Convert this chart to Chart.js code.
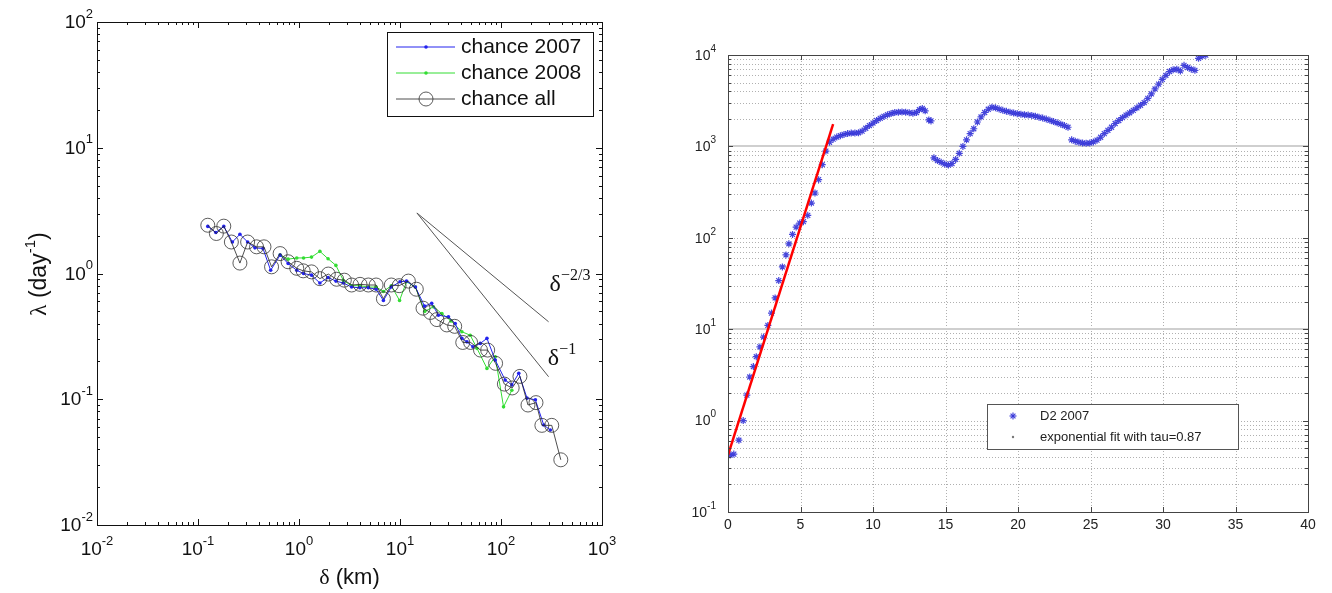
<!DOCTYPE html>
<html>
<head>
<meta charset="utf-8">
<script src="https://cdn.jsdelivr.net/npm/chart.js@4.4.0/dist/chart.umd.min.js"></script>
<style>
html, body { margin: 0; padding: 0; background: #fff; }
#wrap { position: relative; width: 1332px; height: 593px; overflow: hidden; }
#left-chart { position: absolute; left: 0; top: 0; width: 640px; height: 593px; }
#right-chart { position: absolute; left: 660px; top: 0; width: 672px; height: 593px; }
</style>
</head>
<body>
<div id="wrap">
  <canvas id="left-chart" width="640" height="593"></canvas>
  <canvas id="right-chart" width="672" height="593"></canvas>
</div>
<script>
// --- LEFT PANEL DATA (delta in km, lambda in 1/day) ---
const allDelta = [0.125, 0.152, 0.18, 0.214, 0.26, 0.31, 0.38, 0.45, 0.535, 0.65, 0.78, 0.95, 1.10, 1.33, 1.61, 1.95, 2.36, 2.81, 3.32, 4.02, 4.86, 5.8, 6.85, 8.2, 9.8, 12.1, 14.5, 16.9, 20, 23.2, 29.1, 34.8, 41.8, 50, 62.7, 73.8, 88.4, 108, 129, 154, 185, 222, 254, 318, 391];
const allLambda = [2.42, 2.08, 2.38, 1.78, 1.21, 1.78, 1.63, 1.63, 1.13, 1.44, 1.24, 1.10, 1.05, 1.03, 0.91, 0.99, 0.90, 0.885, 0.81, 0.82, 0.81, 0.81, 0.63, 0.81, 0.80, 0.87, 0.75, 0.53, 0.49, 0.43, 0.39, 0.38, 0.283, 0.283, 0.246, 0.246, 0.193, 0.132, 0.123, 0.152, 0.090, 0.094, 0.062, 0.062, 0.033];
const d2007Delta = [0.125, 0.150, 0.18, 0.219, 0.26, 0.31, 0.366, 0.44, 0.524, 0.65, 0.78, 0.95, 1.11, 1.33, 1.61, 1.94, 2.32, 2.75, 3.32, 4.0, 4.86, 5.8, 6.85, 8.2, 10.0, 11.6, 14.2, 17.5, 20.6, 24, 30.2, 35.2, 41, 46, 52.7, 62.4, 72.6, 87.7, 110, 128, 150, 181, 219, 265, 308];
const d2007Lambda = [2.37, 2.12, 2.37, 1.78, 2.05, 1.78, 1.60, 1.58, 1.06, 1.40, 1.20, 1.06, 1.00, 0.97, 0.84, 0.93, 0.87, 0.84, 0.78, 0.77, 0.77, 0.75, 0.61, 0.78, 0.86, 0.87, 0.78, 0.55, 0.58, 0.466, 0.452, 0.40, 0.305, 0.286, 0.261, 0.278, 0.305, 0.205, 0.142, 0.13, 0.161, 0.102, 0.099, 0.0624, 0.0569];
const d2008Delta = [0.65, 0.78, 0.95, 1.11, 1.33, 1.61, 1.94, 2.32, 2.75, 3.32, 4.0, 4.86, 5.8, 6.85, 8.2, 9.9, 11.6, 14.2, 17.6, 21.4, 26, 32, 41, 49.6, 57.8, 72.6, 87.7, 106, 128];
const d2008Lambda = [1.40, 1.30, 1.33, 1.33, 1.35, 1.50, 1.31, 1.16, 0.88, 0.80, 0.80, 0.78, 0.78, 0.72, 0.80, 0.61, 0.86, 0.78, 0.50, 0.543, 0.48, 0.42, 0.344, 0.323, 0.254, 0.176, 0.218, 0.087, 0.118];
const slopeDelta = [14.7, 296];
const slopeTwoThirds = [3.03, 0.413];
const slopeOne = [3.03, 0.151];
const leftXExps = [-2, -1, 0, 1, 2, 3];
const leftYExps = [-2, -1, 0, 1, 2];

// --- RIGHT PANEL DATA (days vs D2) ---
const d2Days = [0.15, 0.4, 0.75, 1.05, 1.3, 1.5, 1.75, 1.95, 2.2, 2.45, 2.75, 3.0, 3.25, 3.5, 3.75, 4.0, 4.2, 4.45, 4.7, 4.95, 5.2, 5.5, 5.75, 6.0, 6.25, 6.5, 6.75, 7.0,
  7.25, 7.5, 7.75, 8.0, 8.25, 8.5, 8.75, 9.0, 9.25, 9.5, 9.75, 10.0, 10.25, 10.5, 10.75, 11.0, 11.25, 11.5, 11.75, 12.0, 12.25, 12.5, 12.75, 13.0, 13.2, 13.4, 13.6, 13.85, 14.0,
  14.2, 14.45, 14.7, 14.95, 15.2, 15.45, 15.7, 15.95, 16.2, 16.45, 16.7, 16.95, 17.2, 17.45, 17.7, 17.95, 18.2, 18.45, 18.7, 18.95, 19.2, 19.45, 19.7, 19.95, 20.2, 20.45, 20.7, 20.95, 21.2, 21.45, 21.7, 21.95, 22.2, 22.45, 22.7, 22.95, 23.2, 23.45,
  23.7, 23.95, 24.2, 24.45, 24.7, 24.95, 25.2, 25.45, 25.7, 25.95, 26.2, 26.45, 26.7, 26.95, 27.2, 27.45, 27.7, 27.95, 28.2, 28.45, 28.7, 28.95, 29.2, 29.45, 29.7, 29.95, 30.2, 30.45, 30.7, 30.95, 31.2, 31.45, 31.7, 31.95, 32.2, 32.45, 32.7, 32.95];
const d2Values = [0.42, 0.43, 0.61, 1.0, 1.9, 3.0, 3.9, 5.0, 6.4, 8.2, 11, 15, 22, 34, 48, 65, 86, 109, 131, 145, 150, 176, 240, 309, 433, 631, 889, 1110,
  1200, 1264, 1310, 1353, 1380, 1400, 1400, 1410, 1470, 1580, 1690, 1800, 1920, 2030, 2130, 2220, 2290, 2350, 2370, 2380, 2370, 2340, 2300, 2350, 2520, 2600, 2450, 1950, 1900,
  750, 700, 670, 640, 625, 650, 720, 840, 1000, 1180, 1380, 1560, 1850, 2100, 2350, 2550, 2680, 2640, 2560, 2480, 2420, 2370, 2320, 2280, 2250, 2220, 2200, 2180, 2140, 2090, 2040, 1990, 1930, 1870, 1810, 1750, 1690, 1620,
  1180, 1140, 1110, 1090, 1080, 1090, 1120, 1170, 1260, 1380, 1500, 1620, 1780, 1920, 2060, 2200, 2330, 2480, 2640, 2820, 3020, 3350, 3750, 4250, 4800, 5400, 6000, 6600, 6900, 7000, 6700, 7700, 7300, 7000, 6800, 9200, 9700, 9950];
const fitDays = [0, 7.25];
const fitValues = [0.42, 1750];
const rightXTicks = [0, 5, 10, 15, 20, 25, 30, 35, 40];
const rightYExps = [-1, 0, 1, 2, 3, 4];

const SANS = '"Liberation Sans", Arial, sans-serif';
const SERIF = '"Liberation Serif", "Times New Roman", serif';
const RIGHT_OFFSET = 660; // right canvas starts here on the page

function toPoints(xs, ys) {
  return xs.map((x, i) => ({ x: x, y: ys[i] }));
}

function line(ctx, x1, y1, x2, y2) {
  ctx.beginPath(); ctx.moveTo(x1, y1); ctx.lineTo(x2, y2); ctx.stroke();
}

// '10' with a superscript exponent, centred or right aligned on x
function drawPow(ctx, exp, x, y, base, sup, dy, align) {
  ctx.font = base + 'px ' + SANS;
  const w1 = ctx.measureText('10').width;
  ctx.font = sup + 'px ' + SANS;
  const w2 = ctx.measureText(String(exp)).width;
  const x0 = align === 'right' ? x - w1 - w2 : x - (w1 + w2) / 2;
  ctx.textAlign = 'left';
  ctx.textBaseline = 'middle';
  ctx.font = base + 'px ' + SANS;
  ctx.fillText('10', x0, y);
  ctx.font = sup + 'px ' + SANS;
  ctx.fillText(String(exp), x0 + w1, y - dy);
}

// text pieces [text, font, dy] drawn one after the other, centred on x
function drawPieces(ctx, pieces, x, y) {
  let total = 0;
  pieces.forEach(p => { ctx.font = p[1]; total += ctx.measureText(p[0]).width; });
  let cx = x - total / 2;
  ctx.textAlign = 'left';
  ctx.textBaseline = 'middle';
  pieces.forEach(p => {
    ctx.font = p[1];
    ctx.fillText(p[0], cx, y + (p[2] || 0));
    cx += ctx.measureText(p[0]).width;
  });
}

function logTicks(exps) {
  const out = [];
  for (let i = 0; i < exps.length; i++) {
    const e = exps[i];
    out.push({ v: Math.pow(10, e), major: true });
    if (i < exps.length - 1) {
      for (let m = 2; m <= 9; m++) out.push({ v: m * Math.pow(10, e), major: false });
    }
  }
  return out;
}

// --- LEFT PANEL DECORATION ---
const leftDecor = {
  id: 'leftDecor',
  afterDraw(chart) {
    const { ctx, chartArea: a, scales: { x, y } } = chart;
    ctx.save();
    ctx.strokeStyle = '#111';
    ctx.lineWidth = 1;
    ctx.strokeRect(Math.round(a.left) + 0.5, Math.round(a.top) + 0.5, Math.round(a.right - a.left), Math.round(a.bottom - a.top));

    logTicks(leftXExps).forEach(t => {
      const px = Math.round(x.getPixelForValue(t.v)) + 0.5;
      const len = t.major ? 6 : 3;
      line(ctx, px, a.bottom, px, a.bottom - len);
      line(ctx, px, a.top, px, a.top + len);
    });
    logTicks(leftYExps).forEach(t => {
      const py = Math.round(y.getPixelForValue(t.v)) + 0.5;
      const len = t.major ? 6 : 3;
      line(ctx, a.left, py, a.left + len, py);
      line(ctx, a.right, py, a.right - len, py);
    });

    ctx.fillStyle = '#111';
    leftXExps.forEach(e => drawPow(ctx, e, x.getPixelForValue(Math.pow(10, e)), 550, 19, 13, 9, 'center'));
    leftYExps.forEach(e => drawPow(ctx, e, a.left - 4, y.getPixelForValue(Math.pow(10, e)) + 1, 19, 13, 9, 'right'));

    drawPieces(ctx, [['δ', '22px ' + SERIF], [' (km)', '22px ' + SANS]], (a.left + a.right) / 2, 578);

    ctx.save();
    ctx.translate(40, 274);
    ctx.rotate(-Math.PI / 2);
    drawPieces(ctx, [['λ', '23px ' + SERIF], [' (day', '23px ' + SANS], ['-1', '15px ' + SANS, -9], [')', '23px ' + SANS]], 0, 0);
    ctx.restore();

    // power law labels
    drawPieces(ctx, [['δ', '24px ' + SERIF], ['−2/3', '16px ' + SERIF, -9]], 570, 285);
    drawPieces(ctx, [['δ', '24px ' + SERIF], ['−1', '16px ' + SERIF, -9]], 562, 359);

    // legend
    const lx = 387, ly = 32, lw = 206, lh = 84;
    ctx.fillStyle = '#fff';
    ctx.fillRect(lx, ly, lw, lh);
    ctx.strokeStyle = '#111';
    ctx.lineWidth = 1;
    ctx.strokeRect(lx + 0.5, ly + 0.5, lw, lh);
    const rows = [
      { label: 'chance 2007', ds: chart.data.datasets[1], y: 47 },
      { label: 'chance 2008', ds: chart.data.datasets[2], y: 73 },
      { label: 'chance all', ds: chart.data.datasets[0], y: 99 }
    ];
    rows.forEach(r => {
      ctx.strokeStyle = r.ds.borderColor;
      ctx.lineWidth = r.ds.borderWidth;
      line(ctx, 396, r.y, 455, r.y);
      ctx.beginPath();
      ctx.arc(426, r.y, r.ds.pointRadius, 0, Math.PI * 2);
      if (r.ds.pointBackgroundColor !== 'transparent') {
        ctx.fillStyle = r.ds.pointBackgroundColor;
        ctx.fill();
      } else {
        ctx.strokeStyle = r.ds.pointBorderColor;
        ctx.stroke();
      }
      ctx.fillStyle = '#111';
      ctx.font = '21px ' + SANS;
      ctx.textAlign = 'left';
      ctx.textBaseline = 'middle';
      ctx.fillText(r.label, 461, r.y);
    });
    ctx.restore();
  }
};

// --- RIGHT PANEL DECORATION (page x minus RIGHT_OFFSET) ---
const rightDecor = {
  id: 'rightDecor',
  beforeDatasetsDraw(chart) {
    const { ctx, chartArea: a, scales: { x, y } } = chart;
    ctx.save();
    ctx.lineWidth = 1;
    ctx.strokeStyle = '#b0b0b0';
    ctx.setLineDash([1, 2]);
    rightXTicks.slice(1, -1).forEach(t => {
      const px = Math.round(x.getPixelForValue(t)) + 0.5;
      line(ctx, px, a.top, px, a.bottom);
    });
    logTicks(rightYExps).forEach(t => {
      const py = Math.round(y.getPixelForValue(t.v)) + 0.5;
      line(ctx, a.left, py, a.right, py);
    });
    ctx.setLineDash([]);
    ctx.strokeStyle = '#cfcfcf';
    ctx.lineWidth = 2;
    [10, 1000].forEach(v => {
      const py = Math.round(y.getPixelForValue(v));
      line(ctx, a.left, py, a.right, py);
    });
    ctx.restore();
  },
  afterDraw(chart) {
    const { ctx, chartArea: a, scales: { x, y } } = chart;
    ctx.save();
    ctx.strokeStyle = '#444';
    ctx.lineWidth = 1;
    ctx.strokeRect(Math.round(a.left) + 0.5, Math.round(a.top) + 0.5, Math.round(a.right - a.left), Math.round(a.bottom - a.top));
    rightXTicks.forEach(t => {
      const px = Math.round(x.getPixelForValue(t)) + 0.5;
      line(ctx, px, a.bottom, px, a.bottom - 5);
      line(ctx, px, a.top, px, a.top + 5);
    });
    logTicks(rightYExps).forEach(t => {
      const py = Math.round(y.getPixelForValue(t.v)) + 0.5;
      const len = t.major ? 5 : 3;
      line(ctx, a.left, py, a.left + len, py);
      line(ctx, a.right, py, a.right - len, py);
    });

    ctx.fillStyle = '#222';
    ctx.font = '14px ' + SANS;
    ctx.textAlign = 'center';
    ctx.textBaseline = 'middle';
    rightXTicks.forEach(t => ctx.fillText(String(t), x.getPixelForValue(t), 525));
    rightYExps.forEach(e => drawPow(ctx, e, a.left - 12, y.getPixelForValue(Math.pow(10, e)) + 1, 14, 10, 7, 'right'));

    // legend
    const lx = 987 - RIGHT_OFFSET, ly = 404, lw = 251, lh = 45;
    ctx.fillStyle = '#fff';
    ctx.fillRect(lx, ly, lw, lh);
    ctx.strokeStyle = '#555';
    ctx.lineWidth = 1;
    ctx.strokeRect(lx + 0.5, ly + 0.5, lw, lh);
    const star = chart.data.datasets[1];
    ctx.strokeStyle = star.borderColor;
    ctx.lineWidth = star.borderWidth;
    const sx = lx + 26, sy = 416, r = star.pointRadius;
    line(ctx, sx, sy - r, sx, sy + r);
    line(ctx, sx - r, sy, sx + r, sy);
    line(ctx, sx - r * 0.7, sy - r * 0.7, sx + r * 0.7, sy + r * 0.7);
    line(ctx, sx - r * 0.7, sy + r * 0.7, sx + r * 0.7, sy - r * 0.7);
    ctx.fillStyle = '#777';
    ctx.beginPath();
    ctx.arc(sx, 437, 1.2, 0, Math.PI * 2);
    ctx.fill();
    ctx.fillStyle = '#222';
    ctx.font = '13px ' + SANS;
    ctx.textAlign = 'left';
    ctx.textBaseline = 'middle';
    ctx.fillText('D2 2007', lx + 53, 416);
    ctx.fillText('exponential fit with tau=0.87', lx + 53, 437);
    ctx.restore();
  }
};

// --- CHARTS ---
new Chart(document.getElementById('left-chart'), {
  type: 'scatter',
  data: {
    datasets: [
      { label: 'chance all', data: toPoints(allDelta, allLambda), showLine: true, borderColor: '#222', borderWidth: 0.8, pointRadius: 7, pointBorderColor: '#333', pointBorderWidth: 0.8, pointBackgroundColor: 'transparent' },
      { label: 'chance 2007', data: toPoints(d2007Delta, d2007Lambda), showLine: true, borderColor: '#2222ee', borderWidth: 1, pointRadius: 1.8, pointBorderWidth: 0, pointBackgroundColor: '#2222ee' },
      { label: 'chance 2008', data: toPoints(d2008Delta, d2008Lambda), showLine: true, borderColor: '#33dd33', borderWidth: 1, pointRadius: 1.8, pointBorderWidth: 0, pointBackgroundColor: '#33dd33' },
      { label: 'delta^-2/3', data: toPoints(slopeDelta, slopeTwoThirds), showLine: true, borderColor: '#555', borderWidth: 1, pointRadius: 0 },
      { label: 'delta^-1', data: toPoints(slopeDelta, slopeOne), showLine: true, borderColor: '#555', borderWidth: 1, pointRadius: 0 }
    ]
  },
  options: {
    responsive: false,
    animation: false,
    events: [],
    layout: { padding: { left: 97, top: 22, right: 38, bottom: 68 } },
    plugins: { legend: { display: false }, tooltip: { enabled: false } },
    scales: {
      x: { type: 'logarithmic', min: 0.01, max: 1000, display: false },
      y: { type: 'logarithmic', min: 0.01, max: 100, display: false }
    }
  },
  plugins: [leftDecor]
});

new Chart(document.getElementById('right-chart'), {
  type: 'scatter',
  data: {
    datasets: [
      { label: 'exponential fit with tau=0.87', data: toPoints(fitDays, fitValues), showLine: true, borderColor: '#ff0000', borderWidth: 2.5, pointRadius: 0 },
      { label: 'D2 2007', data: toPoints(d2Days, d2Values), showLine: false, pointStyle: 'star', pointRadius: 3.5, borderColor: 'rgba(50,50,215,0.9)', borderWidth: 1.2, backgroundColor: 'rgba(50,50,215,0.9)' }
    ]
  },
  options: {
    responsive: false,
    animation: false,
    events: [],
    layout: { padding: { left: 68, top: 55, right: 24, bottom: 81 } },
    plugins: { legend: { display: false }, tooltip: { enabled: false } },
    scales: {
      x: { type: 'linear', min: 0, max: 40, display: false },
      y: { type: 'logarithmic', min: 0.1, max: 10000, display: false }
    }
  },
  plugins: [rightDecor]
});
</script>
</body>
</html>
